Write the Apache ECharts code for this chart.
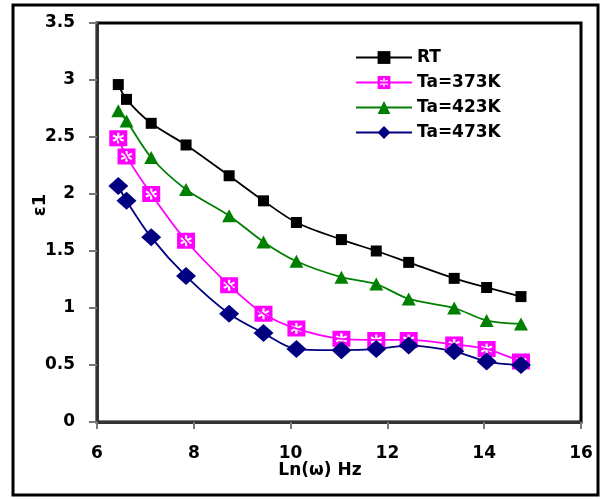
<!DOCTYPE html>
<html>
<head>
<meta charset="utf-8">
<script src="https://cdn.jsdelivr.net/npm/echarts@6/dist/echarts.min.js"></script>
<style>
html,body{margin:0;padding:0;background:#fff;}
#chart{width:606px;height:499px;}
</style>
</head>
<body>
<div id="chart"></div>
<script>
const seriesNames = ['RT', 'Ta=373K', 'Ta=423K', 'Ta=473K'];
const xValues = [6.44, 6.61, 7.12, 7.84, 8.73, 9.44, 10.12, 11.05, 11.77, 12.44, 13.38, 14.05, 14.76];
const rtValues = [2.96, 2.83, 2.62, 2.43, 2.16, 1.94, 1.75, 1.60, 1.50, 1.40, 1.26, 1.18, 1.10];
const ta373Values = [2.49, 2.33, 2.00, 1.59, 1.20, 0.95, 0.82, 0.73, 0.72, 0.72, 0.68, 0.64, 0.53];
const ta423Values = [2.73, 2.64, 2.32, 2.04, 1.81, 1.58, 1.41, 1.27, 1.21, 1.08, 1.00, 0.89, 0.86];
const ta473Values = [2.07, 1.94, 1.62, 1.28, 0.95, 0.78, 0.64, 0.63, 0.64, 0.67, 0.62, 0.53, 0.50];
const xTicks = [6, 8, 10, 12, 14, 16];
const yTicks = [0, 0.5, 1, 1.5, 2, 2.5, 3, 3.5];
const xTitle = 'Ln(ω) Hz';
const yTitle = 'ε1';

function pairs(ys) { return xValues.map((x, i) => [x, ys[i]]); }

// square with an asterisk-shaped hole (opposite winding)
function asteriskSquare() {
  const c = 10, R = 6.8, h = 1.25;
  let p = 'path://M0,0 L20,0 L20,20 L0,20 Z ';
  const pts = [];
  for (let k = 0; k < 6; k++) {
    const th = (90 + 60 * k) * Math.PI / 180;
    const dx = Math.cos(th), dy = -Math.sin(th);
    const nx = -Math.sin(th), ny = -Math.cos(th);
    pts.push([c + R * dx - h * nx, c + R * dy - h * ny]);
    pts.push([c + R * dx + h * nx, c + R * dy + h * ny]);
    const t2 = th + Math.PI / 6;
    pts.push([c + 2 * h * Math.cos(t2), c - 2 * h * Math.sin(t2)]);
  }
  p += 'M' + pts.map(q => q[0].toFixed(2) + ',' + q[1].toFixed(2)).join(' L') + ' Z';
  return p;
}

const font = 'DejaVu Sans';
const chart = echarts.init(document.getElementById('chart'), null, {renderer: 'canvas'});
const option = {
  animation: false,
  backgroundColor: '#fff',
  grid: {left: 97, right: 25, top: 23, bottom: 77, show: true, borderColor: '#000', borderWidth: 3, backgroundColor: 'transparent'},
  legend: {
    orient: 'vertical', left: 350, top: 44,
    itemWidth: 56, itemHeight: 16, itemGap: 8,
    textStyle: {fontFamily: font, fontWeight: 'bold', fontSize: 17, color: '#000'},
    data: seriesNames
  },
  xAxis: {
    type: 'value', min: xTicks[0], max: xTicks[xTicks.length - 1], interval: 2,
    splitLine: {show: false},
    axisLine: {show: true, lineStyle: {color: '#333', width: 3}},
    axisTick: {show: true, inside: false, length: 7, lineStyle: {color: '#777', width: 2}},
    axisLabel: {margin: 23, fontFamily: font, fontWeight: 'bold', fontSize: 17, color: '#000'}
  },
  yAxis: {
    type: 'value', min: yTicks[0], max: yTicks[yTicks.length - 1], interval: 0.5,
    splitLine: {show: false},
    axisLine: {show: true, lineStyle: {color: '#333', width: 3}},
    axisTick: {show: true, inside: false, length: 8, lineStyle: {color: '#777', width: 2}},
    axisLabel: {margin: 22, fontFamily: font, fontWeight: 'bold', fontSize: 17, color: '#000'}
  },
  graphic: [
    {type: 'rect', shape: {x: 13, y: 5, width: 585, height: 490}, style: {fill: 'none', stroke: '#000', lineWidth: 3}, silent: true, z: 100},
    {type: 'text', x: 320, y: 471, style: {text: xTitle, fontFamily: font, fontWeight: 'bold', fontSize: 17, fill: '#000', align: 'center', verticalAlign: 'middle'}},
    {type: 'text', x: 40, y: 205, rotation: Math.PI / 2, style: {text: yTitle, fontFamily: font, fontWeight: 'bold', fontSize: 18, fill: '#000', align: 'center', verticalAlign: 'middle'}}
  ],
  series: [
    {name: seriesNames[0], type: 'line', smooth: 0.3, data: pairs(rtValues),
     symbol: 'rect', symbolSize: 11, lineStyle: {color: '#000', width: 1.8}, itemStyle: {color: '#000'}},
    {name: seriesNames[1], type: 'line', smooth: 0.3, data: pairs(ta373Values),
     symbol: asteriskSquare(), symbolSize: [18, 16], lineStyle: {color: '#FF00FF', width: 1.8}, itemStyle: {color: '#FF00FF'}},
    {name: seriesNames[2], type: 'line', smooth: 0.3, data: pairs(ta423Values),
     symbol: 'triangle', symbolSize: [14, 13], lineStyle: {color: '#008000', width: 1.8}, itemStyle: {color: '#008000'}},
    {name: seriesNames[3], type: 'line', smooth: 0.3, data: pairs(ta473Values),
     symbol: 'diamond', symbolSize: [20, 18], lineStyle: {color: '#000080', width: 1.8}, itemStyle: {color: '#000080'}}
  ]
};
chart.setOption(option);
</script>
</body>
</html>
